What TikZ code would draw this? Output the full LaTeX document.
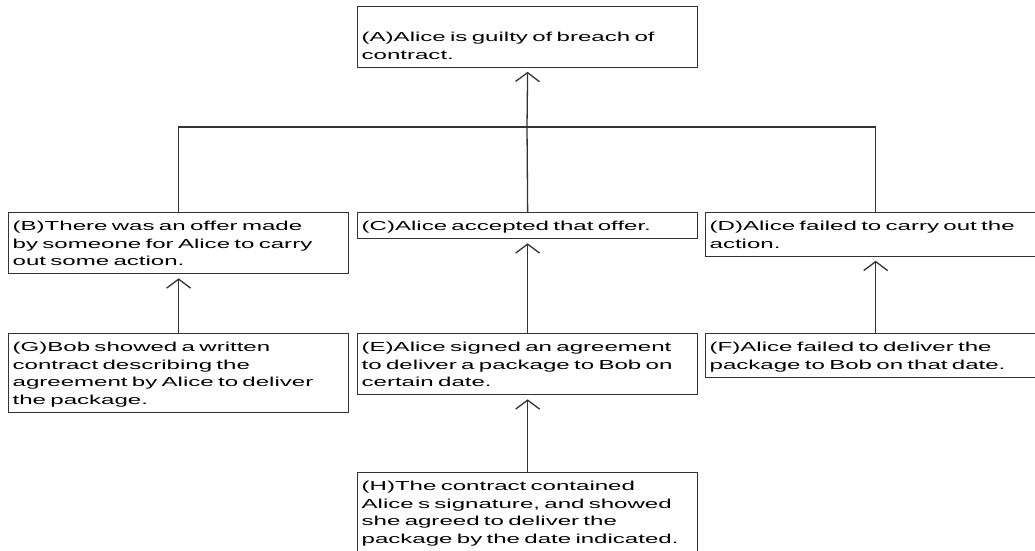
\documentclass[tikz,border=0pt]{standalone}
\usepackage{fontspec}
\setmainfont{Liberation Sans}[FakeStretch=1.85]
\usetikzlibrary{arrows.meta}
\def\up{\rule{0pt}{13.75pt}}
\def\dn{\rule[-3.75pt]{0pt}{3.75pt}}

\begin{document}
\begin{tikzpicture}[x=1pt,y=-1pt,
  claim/.style={draw=black!80, line width=1.3pt, anchor=north west, align=left,
    text width=332pt, inner xsep=4pt, inner ysep=4.25pt,
    font=\fontsize{13}{17.5}\selectfont,
    execute at begin node=\up, execute at end node=\dn},
  link/.style={draw=black!80, line width=1.3pt},
  uparrow/.style={link, -{Straight Barb[length=9pt,width=24pt]}, shorten >=4pt}]
  \clip (0,0) rectangle (1035,550);
  % top claim
  \node[claim] (A) at (357,5.5) {\\(A)Alice is guilty of breach of\\contract.};
  % second row
  \node[claim] (B) at (8,212) {(B)There was an offer made\\by someone for Alice to carry\\out some action.};
  \node[claim] (C) at (357,212) {(C)Alice accepted that offer.};
  \node[claim] (D) at (705,212) {(D)Alice failed to carry out the\\action.};
  % third row
  \node[claim] (G) at (8,333) {(G)Bob showed a written\\contract describing the\\agreement by Alice to deliver\\the package.};
  \node[claim] (E) at (357,333) {(E)Alice signed an agreement\\to deliver a package to Bob on\\certain date.};
  \node[claim] (F) at (705,333) {(F)Alice failed to deliver the\\package to Bob on that date.};
  % bottom
  \node[claim] (H) at (357,472) {(H)The contract contained\\Alice s signature, and showed\\she agreed to deliver the\\package by the date indicated.};

  \coordinate (bus) at (527,127);
  \draw[uparrow] (bus) -- (A.south);
  \draw[link] (B.north) |- (bus) -| (D.north);
  \draw[link] (C.north) -- (bus);
  \draw[uparrow] (G.north) -- (B.south);
  \draw[uparrow] (E.north) -- (C.south);
  \draw[uparrow] (F.north) -- (D.south);
  \draw[uparrow] (H.north) -- (E.south);
\end{tikzpicture}
\end{document}
